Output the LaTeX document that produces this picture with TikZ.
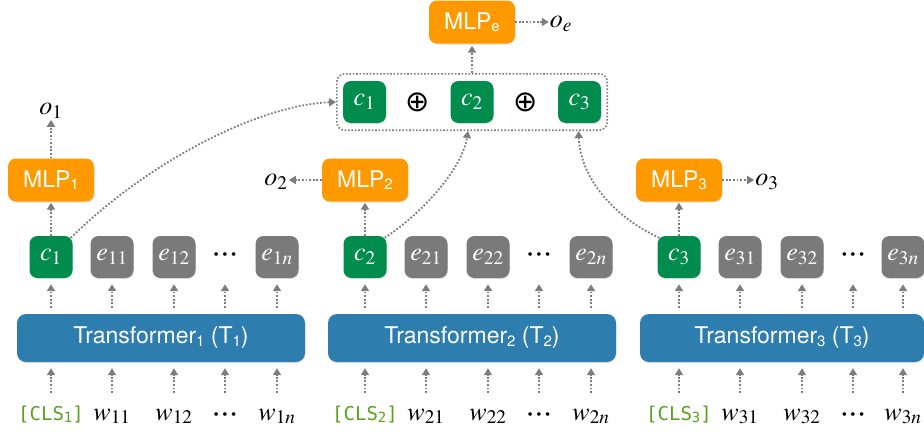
\RequirePackage{fix-cm}
\documentclass[tikz,border=0pt]{standalone}
\usepackage{mathptmx}
\usepackage[no-math]{fontspec}
\setmainfont{TeX Gyre Heros}
\newfontfamily\mono{DejaVu Sans Mono}
\newfontfamily\symf{DejaVu Sans}
\usetikzlibrary{arrows.meta,fit,shadows}

\definecolor{mlporange}{RGB}{255,153,0}
\definecolor{cgreen}{RGB}{0,140,76}
\definecolor{egray}{RGB}{122,122,122}
\definecolor{tblue}{RGB}{46,125,175}
\definecolor{clsgreen}{RGB}{90,160,30}
\definecolor{arrgray}{RGB}{125,125,125}

% small sans subscript for box labels
\newcommand\tsub[1]{\raisebox{-2.5pt}{\fontsize{15}{15}\selectfont #1}}
\newcommand\vfont{\fontsize{26}{30}\selectfont}
\newcommand\lfont{\fontsize{23}{27}\selectfont}
\newcommand\clsfont{\mono\fontsize{19}{21}\selectfont}
% a row of three bold centred dots
\newcommand\hdots{{\bfseries\fontsize{24}{26}\selectfont ·\kern2pt·\kern2pt·}}

\begin{document}
\begin{tikzpicture}[x=1pt,y=-1pt,
  arr/.style={draw=arrgray, line width=1.8pt, dash pattern=on 1.8pt off 1.8pt,
    -{Triangle[length=7pt,width=8pt]}},
  softshadow/.style={drop shadow={shadow xshift=0.5pt,shadow yshift=-1.2pt,opacity=0.2}},
  cell/.style={rounded corners=8pt, minimum width=43pt, minimum height=42pt,
    inner sep=0pt, text=white, font=\vfont, softshadow},
  cbox/.style={cell, fill=cgreen},
  ebox/.style={cell, fill=egray},
  mlpbox/.style={rounded corners=8pt, fill=mlporange, minimum width=86pt,
    minimum height=43pt, inner sep=0pt, text=white, font=\lfont, softshadow},
  tbox/.style={rounded corners=9pt, fill=tblue, minimum height=48pt,
    inner sep=0pt, text=white, font=\lfont, softshadow},
  var/.style={inner sep=1pt, font=\vfont},
  inp/.style={inner sep=1pt, font=\vfont, anchor=base},
  plus/.style={inner sep=1pt, font=\symf\fontsize{29}{31}\selectfont},
  ]
\useasboundingbox (0,0) rectangle (924,434);

\coordinate (inrow) at (0,393);

% three encoder branches
\foreach \g/\dx/\tx/\tw/\nx in {1/0/161/288/277, 2/314/472/288/591, 3/628/782/284/903} {
  \node[tbox, minimum width=\tw pt] (t\g) at (\tx,338) {Transformer\tsub{\g} (T\tsub{\g})};
  \node[cbox] (c\g) at (51+\dx,257) {$c_{\g}$};
  \node[ebox] (e\g a) at (112+\dx,257) {$e_{\g1}$};
  \node[ebox] (e\g b) at (174+\dx,257) {$e_{\g2}$};
  \node[var] (d\g) at (225+\dx,257) {\hdots};
  \node[ebox] (e\g n) at (\nx,257) {$e_{\g n}$};
  \node[mlpbox] (m\g) at (51+\dx,180) {MLP\tsub{\g}};

  \node[inp, text=clsgreen, font=\clsfont] (x\g c) at (51+\dx,420)
    {[CLS\raisebox{-2pt}{\fontsize{14}{14}\selectfont\g}]};
  \node[inp] (x\g a) at (112+\dx,420) {$w_{\g1}$};
  \node[inp] (x\g b) at (174+\dx,420) {$w_{\g2}$};
  \node[inp] (x\g d) at (225+\dx,420) {\hdots};
  \node[inp] (x\g n) at (\nx,420) {$w_{\g n}$};

  \foreach \k in {c,a,b,d,n}
    \draw[arr, shorten >=6pt] (x\g\k |- inrow) -- (x\g\k |- t\g.south);
  \foreach \k in {c\g,e\g a,e\g b,d\g,e\g n}
    \draw[arr, shorten <=6pt, shorten >=6pt] (\k |- t\g.north) -- (\k |- c\g.south);
  \draw[arr, shorten >=1pt] (c\g) -- (m\g);
}

% branch outputs
\node[var] (o1) at (51,111) {$o_1$};
\node[var] (o2) at (276,182) {$o_2$};
\node[var] (o3) at (767,182) {$o_3$};
\draw[arr] (m1) -- (o1);
\draw[arr] (m2.west) -- (m2.west -| o2.east);
\draw[arr] (m3.east) -- (m3.east -| o3.west);

% concatenation of the [CLS] vectors
\node[cbox] (k1) at (364.5,102) {$c_1$};
\node[plus] (p1) at (418,102) {⊕};
\node[cbox] (k2) at (472,102) {$c_2$};
\node[plus] (p2) at (526,102) {⊕};
\node[cbox] (k3) at (579.5,102) {$c_3$};
\node[fit=(k1)(k3), inner xsep=6pt, inner ysep=7pt, draw=arrgray, line width=1.6pt,
  dash pattern=on 1.6pt off 1.8pt, rounded corners=8pt] (cat) {};

\node[mlpbox] (me) at (472,22) {MLP\tsub{e}};
\node[var] (oe) at (561,24) {$o_e$};
\draw[arr, shorten >=2pt] (cat) -- (me);
\draw[arr] (me.east) -- (me.east -| oe.west);

% links from each branch's [CLS] vector to the concatenation
\draw[arr] ([xshift=-2pt,yshift=-2pt]c1.north east) .. controls (150,160) and (260,105) .. (cat.west);
\draw[arr] ([xshift=-2pt,yshift=-2pt]c2.north east) .. controls (420,215) and (462,170) .. ([xshift=-4pt]cat.south -| k2);
\draw[arr] ([xshift=2pt,yshift=-2pt]c3.north west) .. controls (610,215) and (580,175) .. ([xshift=-1pt]cat.south -| k3);
\end{tikzpicture}
\end{document}
